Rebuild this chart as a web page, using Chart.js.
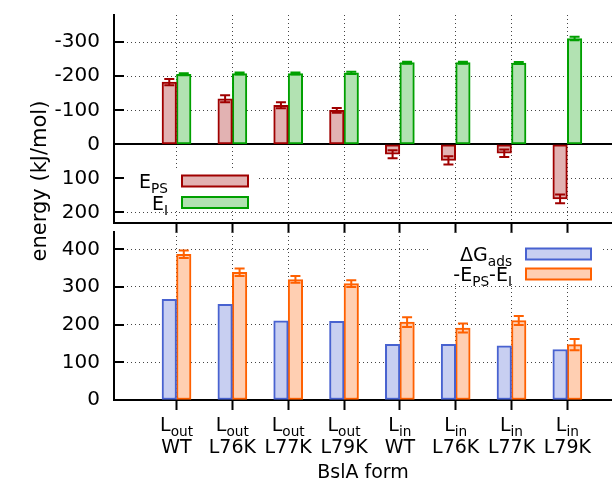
<!DOCTYPE html>
<html><head><meta charset="utf-8">
<script src="https://cdn.jsdelivr.net/npm/chart.js@4.4.1/dist/chart.umd.min.js"></script>
<style>
html,body{margin:0;padding:0;background:#fff;}
#wrap{position:relative;width:612px;height:486px;background:#fff;}
canvas{position:absolute;left:0;top:0;}
</style></head><body>
<div id="wrap"><canvas id="cTop" width="612" height="486"></canvas><canvas id="cBot" width="612" height="486"></canvas></div>
<script>
// ---- data ----
const catSub = ["out","out","out","out","in","in","in","in"];
const catMut = ["WT","L76K","L77K","L79K","WT","L76K","L77K","L79K"];
const ePS      = [-183,-134,-115,-100, 29, 47, 26, 160];
const ePSErr   = [9, 10, 9, 7, 12, 12, 11, 13];
const eI       = [-206,-208,-208,-210,-240,-240,-239,-311];
const eIErr    = [3, 3, 3, 3, 3, 3, 3, 5];
const dGads    = [267, 254, 210, 209, 148, 148, 144, 134];
const negSum   = [387, 339, 320, 309, 207, 191, 211, 147];
const negSumErr= [10, 10, 9, 9, 13, 12, 12, 15];
const topTicks = [-300,-200,-100,0,100,200];
const botTicks = [0,100,200,300,400];
const xTitle = "BslA form";
const yTitle = "energy (kJ/mol)";

// ---- style ----
const FONT = "'DejaVu Sans', sans-serif";
const FS = 19;
const TFS = 20;
const C = {
  red:'#a00000', redF:'#e2b2b2',
  green:'#00a000', greenF:'#b2e2b2',
  blue:'#4862d0', blueF:'#c8cff1',
  orange:'#ff6000', orangeF:'#ffcfb2'
};
const GRID = '#444';

function setFont(ctx, size){ ctx.font = size + 'px ' + FONT; }
function richWidth(ctx, parts, size){
  let w = 0;
  for (const p of parts){ setFont(ctx, p.sub ? size*0.72 : size); w += ctx.measureText(p.t).width; }
  return w;
}
function drawRich(ctx, parts, x, y, size, align){
  const w = richWidth(ctx, parts, size);
  let cx = align === 'right' ? x - w : (align === 'center' ? x - w/2 : x);
  ctx.textAlign = 'left'; ctx.textBaseline = 'alphabetic'; ctx.fillStyle = '#000';
  for (const p of parts){
    setFont(ctx, p.sub ? size*0.72 : size);
    ctx.fillText(p.t, cx, p.sub ? y + size*0.28 : y);
    cx += ctx.measureText(p.t).width;
  }
}
function legendEntry(ctx, parts, textRight, sx, sw, cy, stroke, fill){
  drawRich(ctx, parts, textRight, cy + 7, FS, 'right');
  ctx.fillStyle = fill; ctx.fillRect(sx, cy - 5.5, sw, 11);
  ctx.strokeStyle = stroke; ctx.lineWidth = 2; ctx.strokeRect(sx, cy - 5.5, sw, 11);
}
function drawErrors(chart, dsIndex, vals, errs, color){
  const {ctx} = chart; const y = chart.scales.y;
  const meta = chart.getDatasetMeta(dsIndex);
  ctx.save(); ctx.strokeStyle = color; ctx.lineWidth = 2;
  meta.data.forEach((el, i) => {
    const x = el.x;
    const y1 = y.getPixelForValue(vals[i] - errs[i]);
    const y2 = y.getPixelForValue(vals[i] + errs[i]);
    ctx.beginPath();
    ctx.moveTo(x, y1); ctx.lineTo(x, y2);
    ctx.moveTo(x - 5, y1); ctx.lineTo(x + 5, y1);
    ctx.moveTo(x - 5, y2); ctx.lineTo(x + 5, y2);
    ctx.stroke();
  });
  ctx.restore();
}
function insideTicks(chart, ticks){
  const {ctx, chartArea:a} = chart; const y = chart.scales.y;
  ctx.save(); ctx.strokeStyle = '#000'; ctx.lineWidth = 2;
  ticks.forEach(v => {
    const py = Math.round(y.getPixelForValue(v));
    ctx.beginPath(); ctx.moveTo(a.left, py); ctx.lineTo(a.left + 10, py); ctx.stroke();
  });
  ctx.restore();
}
function pts(arr){ return arr.map((v, i) => ({x: i, y: v})); }

function xScale(h){
  return {
    type:'linear', min:-1.12, max:7.8, offset:false,
    afterBuildTicks: s => { s.ticks = catMut.map((c, i) => ({value: i})); },
    afterFit: s => { s.height = h; s.paddingLeft = 0; s.paddingRight = 0; s.paddingTop = 0; s.paddingBottom = 0; },
    ticks:{display:false},
    grid:{display:true, offset:false, color:GRID, lineWidth:1, drawTicks:true, tickLength:10, tickColor:'#000', tickWidth:2},
    border:{display:true, color:'#000', width:2, dash:[1,3]}
  };
}
function yScale(min, max, reverse, ticks, zeroHidden){
  return {
    type:'linear', min:min, max:max, reverse:reverse,
    afterBuildTicks: s => { s.ticks = ticks.map(v => ({value: v})); },
    afterFit: s => { s.width = 114; s.paddingTop = 0; s.paddingBottom = 0; s.paddingLeft = 0; s.paddingRight = 0; },
    ticks:{color:'#000', font:{family:FONT, size:TFS}, padding:14, callback: v => String(v)},
    grid:{drawTicks:false, lineWidth:1, color: c => (zeroHidden && c.tick && c.tick.value === 0) ? 'rgba(0,0,0,0)' : GRID},
    border:{display:true, color:'#000', width:2, dash:[1,3]}
  };
}
function barDs(label, arr, stroke, fill){
  return {label, data: pts(arr), backgroundColor: fill, borderColor: stroke, borderWidth: 2,
          borderSkipped: false, barThickness: 14.5};
}

// ---- top panel ----
const topPlugin = {
  id:'topExtras',
  beforeDatasetsDraw(chart){
    const {ctx, chartArea:a} = chart; const y = chart.scales.y;
    ctx.save();
    const y0 = Math.round(y.getPixelForValue(0));
    ctx.strokeStyle = '#000'; ctx.lineWidth = 2;
    ctx.beginPath(); ctx.moveTo(a.left, y0); ctx.lineTo(a.right, y0); ctx.stroke();
    // opaque legend
    ctx.fillStyle = '#fff'; ctx.fillRect(a.left + 1, 168, 259 - a.left - 1, 43);
    legendEntry(ctx, [{t:'E'},{t:'PS',sub:true}], 168, 182, 66, 181, C.red, C.redF);
    legendEntry(ctx, [{t:'E'},{t:'I',sub:true}], 168, 182, 66, 202.5, C.green, C.greenF);
    ctx.restore();
  },
  afterDatasetsDraw(chart){
    drawErrors(chart, 0, ePS, ePSErr, C.red);
    drawErrors(chart, 1, eI, eIErr, C.green);
    insideTicks(chart, topTicks);
  },
  afterDraw(chart){
    const {ctx} = chart;
    ctx.save();
    ctx.translate(46, 181); ctx.rotate(-Math.PI/2);
    drawRich(ctx, [{t:yTitle}], 0, 0, 21, 'center');
    ctx.restore();
  }
};
new Chart(document.getElementById('cTop'), {
  type:'bar',
  data:{datasets:[ barDs('E_PS', ePS, C.red, C.redF), barDs('E_I', eI, C.green, C.greenF) ]},
  options:{
    responsive:false, animation:false, devicePixelRatio:1,
    layout:{autoPadding:false, padding:{top:15, left:0, right:0, bottom:486 - 233}},
    plugins:{legend:{display:false}, tooltip:{enabled:false}},
    scales:{
      x: xScale(10),
      y: yScale(-380, 231, true, topTicks, true)
    }
  },
  plugins:[topPlugin]
});

// ---- bottom panel ----
const botPlugin = {
  id:'botExtras',
  beforeDatasetsDraw(chart){
    const {ctx} = chart;
    ctx.save();
    ctx.fillStyle = '#fff'; ctx.fillRect(428, 236, 172, 47);
    legendEntry(ctx, [{t:'ΔG'},{t:'ads',sub:true}], 512, 526, 65, 254, C.blue, C.blueF);
    legendEntry(ctx, [{t:'-E'},{t:'PS',sub:true},{t:'-E'},{t:'I',sub:true}], 512, 526, 65, 274, C.orange, C.orangeF);
    ctx.restore();
  },
  afterDatasetsDraw(chart){
    drawErrors(chart, 1, negSum, negSumErr, C.orange);
    insideTicks(chart, botTicks);
  },
  afterDraw(chart){
    const {ctx, chartArea:a} = chart; const x = chart.scales.x;
    ctx.save();
    catMut.forEach((m, i) => {
      const px = x.getPixelForValue(i);
      drawRich(ctx, [{t:'L'},{t:catSub[i],sub:true}], px, 431, FS, 'center');
      drawRich(ctx, [{t:m}], px, 453, FS, 'center');
    });
    drawRich(ctx, [{t:xTitle}], (a.left + a.right)/2, 478, FS, 'center');
    ctx.restore();
  }
};
new Chart(document.getElementById('cBot'), {
  type:'bar',
  data:{datasets:[ barDs('ΔG_ads', dGads, C.blue, C.blueF), barDs('-E_PS-E_I', negSum, C.orange, C.orangeF) ]},
  options:{
    responsive:false, animation:false, devicePixelRatio:1,
    layout:{autoPadding:false, padding:{top:232, left:0, right:0, bottom:0}},
    plugins:{legend:{display:false}, tooltip:{enabled:false}},
    scales:{
      x: xScale(86),
      y: yScale(0, 446, false, botTicks, false)
    }
  },
  plugins:[botPlugin]
});
</script>
</body></html>
